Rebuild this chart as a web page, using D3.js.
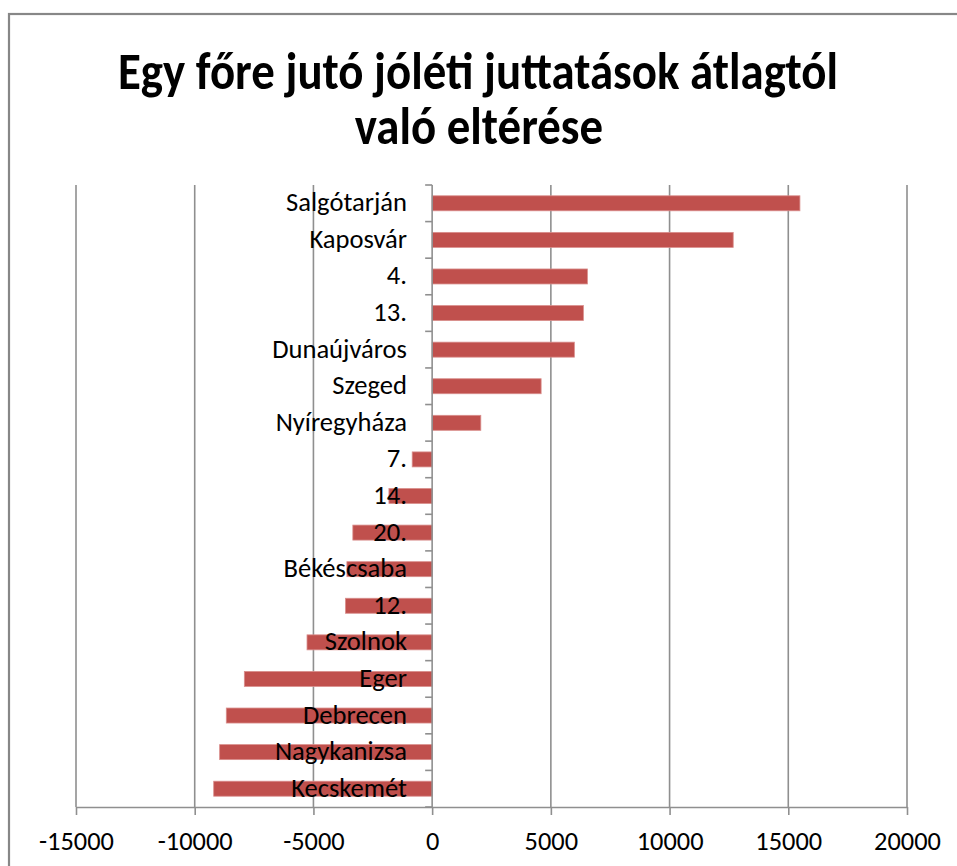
<!DOCTYPE html>
<html>
<head>
<meta charset="utf-8">
<script src="https://cdn.jsdelivr.net/npm/d3@7"></script>
<style>
  html, body { margin: 0; padding: 0; background: #fff; }
  svg { display: block; }
</style>
</head>
<body>
<svg id="chart" width="957" height="866"></svg>
<script>
const titleLines = ["Egy főre jutó jóléti juttatások átlagtól", "való eltérése"];
const categories = ["Salgótarján", "Kaposvár", "4.", "13.", "Dunaújváros", "Szeged", "Nyíregyháza",
  "7.", "14.", "20.", "Békéscsaba", "12.", "Szolnok", "Eger", "Debrecen", "Nagykanizsa", "Kecskemét"];
const values = [15490, 12680, 6540, 6370, 5990, 4590, 2050,
  -840, -1820, -3340, -3590, -3650, -5270, -7910, -8670, -8950, -9200];
const xTicks = [-15000, -10000, -5000, 0, 5000, 10000, 15000, 20000];

const FONT = "Carlito, Calibri, 'Open Sans', sans-serif";
const svg = d3.select("#chart");

svg.append("rect").attr("width", 957).attr("height", 866).attr("fill", "#fff");
svg.append("rect")
  .attr("x", 9).attr("y", 14).attr("width", 1000).attr("height", 1000)
  .attr("fill", "none").attr("stroke", "#878787").attr("stroke-width", 2.2);

const pLeft = 76, pRight = 907, pTop = 185, pBottom = 807;
const x = d3.scaleLinear().domain([xTicks[0], xTicks[xTicks.length - 1]]).range([pLeft, pRight]);
const y = d3.scaleBand().domain(categories).range([pTop, pBottom]).paddingInner(0.59).paddingOuter(0.295);

// helper: fit font-size so a text element reaches a target width
function fit(sel, target) {
  const w = sel.node().getComputedTextLength();
  const fs = parseFloat(sel.attr("font-size"));
  sel.attr("font-size", fs * target / w);
  return fs * target / w;
}

// title (slightly tall glyphs, as in the reference)
const TSTRETCH = 1.14;
const tg1 = svg.append("g").attr("transform", `translate(478,89) scale(1,${TSTRETCH})`);
const t1 = tg1.append("text").attr("x", 0).attr("y", 0).attr("text-anchor", "middle")
  .attr("font-family", FONT).attr("font-weight", "bold").attr("font-size", 40).attr("fill", "#000")
  .text(titleLines[0]);
const tfs = fit(t1, 720);
const tg2 = svg.append("g").attr("transform", `translate(479,144) scale(1,${TSTRETCH})`);
tg2.append("text").attr("x", 0).attr("y", 0).attr("text-anchor", "middle")
  .attr("font-family", FONT).attr("font-weight", "bold").attr("font-size", tfs).attr("fill", "#000")
  .text(titleLines[1]);

// gridlines
svg.append("g").selectAll("line").data(xTicks.filter(d => d !== 0)).join("line")
  .attr("x1", d => x(d)).attr("x2", d => x(d)).attr("y1", pTop).attr("y2", pBottom)
  .attr("stroke", "#8f8f8f").attr("stroke-width", 1.6);

// bars
svg.append("g").selectAll("rect").data(categories).join("rect")
  .attr("x", (d, i) => Math.min(x(0), x(values[i])))
  .attr("width", (d, i) => Math.abs(x(values[i]) - x(0)))
  .attr("y", d => y(d)).attr("height", y.bandwidth())
  .attr("fill", "#C0504D").attr("stroke", "#d98e8c").attr("stroke-width", 0.8);

// x axis
const xAxis = d3.axisBottom(x).tickValues(xTicks).tickSize(8).tickSizeOuter(0).tickFormat(d3.format("d"));
const gx = svg.append("g").attr("transform", `translate(0,${pBottom})`).call(xAxis);
gx.select(".domain").attr("stroke", "#8f8f8f").attr("stroke-width", 1.6);
gx.selectAll(".tick line").attr("stroke", "#8f8f8f").attr("stroke-width", 1.6);
gx.selectAll(".tick text").attr("font-family", FONT).attr("font-size", 20).attr("fill", "#000")
  .attr("dy", null).attr("y", 43).text(d => String(d));
const lab0 = gx.selectAll(".tick text").filter(d => d === -15000);
const xfs = fit(lab0, 75);
gx.selectAll(".tick text").attr("font-size", xfs);

// y axis line + ticks at band boundaries
const step = y.step();
const bounds = d3.range(categories.length + 1).map(i => pTop + i * step);
const gy = svg.append("g");
gy.append("line").attr("x1", x(0)).attr("x2", x(0)).attr("y1", pTop).attr("y2", pBottom)
  .attr("stroke", "#8f8f8f").attr("stroke-width", 1.6);
gy.selectAll("line.tk").data(bounds).join("line").attr("class", "tk")
  .attr("x1", x(0) - 7).attr("x2", x(0)).attr("y1", d => d).attr("y2", d => d)
  .attr("stroke", "#8f8f8f").attr("stroke-width", 1.6);

// category labels
const labels = svg.append("g").selectAll("text").data(categories).join("text")
  .attr("x", 407).attr("y", d => y(d) + y.bandwidth() / 2 + 8)
  .attr("text-anchor", "end").attr("font-family", FONT).attr("font-size", 20).attr("fill", "#000")
  .text(d => d);
const ref = labels.filter(d => d === "Salgótarján");
const lfs = fit(ref, 121);
labels.attr("font-size", lfs);
</script>
</body>
</html>
